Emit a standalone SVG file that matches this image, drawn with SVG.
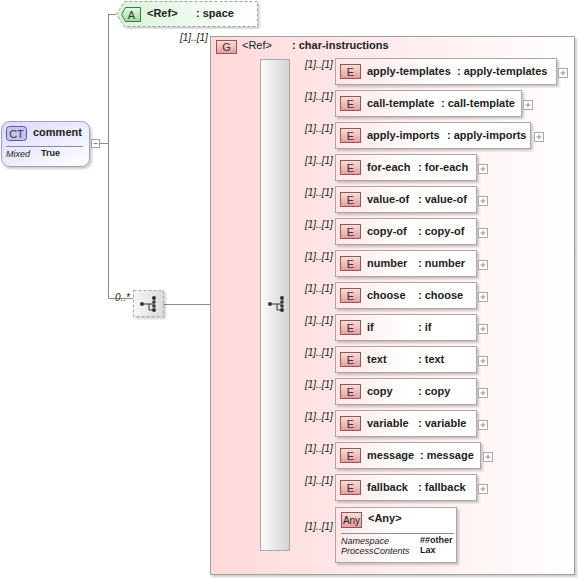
<svg xmlns="http://www.w3.org/2000/svg" width="578" height="579" viewBox="0 0 578 579">
<defs>
<linearGradient id="gGroup" x1="0" y1="0" x2="1" y2="0"><stop offset="0" stop-color="#ffd9d9"/><stop offset="1" stop-color="#ffffff"/></linearGradient>
<linearGradient id="gBar" x1="0" y1="0" x2="1" y2="0"><stop offset="0" stop-color="#fbfbfb"/><stop offset="1" stop-color="#d4d4d4"/></linearGradient>
<linearGradient id="gElem" x1="0" y1="0" x2="1" y2="0"><stop offset="0" stop-color="#ffe6e6"/><stop offset="0.5" stop-color="#ffffff"/><stop offset="1" stop-color="#ffffff"/></linearGradient>
<linearGradient id="gE" x1="0" y1="0" x2="0" y2="1"><stop offset="0" stop-color="#fbdede"/><stop offset="1" stop-color="#ea9a9a"/></linearGradient>
<linearGradient id="gCT" x1="0" y1="0" x2="1" y2="1"><stop offset="0" stop-color="#d9d9fb"/><stop offset="1" stop-color="#ffffff"/></linearGradient>
<linearGradient id="gAttr" x1="0" y1="0" x2="1" y2="0"><stop offset="0" stop-color="#d8f5d8"/><stop offset="1" stop-color="#ffffff"/></linearGradient>
<linearGradient id="gA" x1="0" y1="0" x2="0" y2="1"><stop offset="0" stop-color="#e6f8e6"/><stop offset="1" stop-color="#9fd99f"/></linearGradient>
<linearGradient id="gSeq" x1="0" y1="0" x2="1" y2="0"><stop offset="0" stop-color="#f6f6f6"/><stop offset="1" stop-color="#dcdcdc"/></linearGradient>
<filter id="sh" x="-5%" y="-5%" width="115%" height="115%"><feDropShadow dx="2" dy="2" stdDeviation="1" flood-color="#000" flood-opacity="0.2"/></filter>
<g id="plus"><rect x="0" y="0" width="9" height="9" fill="#fff" stroke="#a8a8a8" stroke-width="1"/><path d="M2 4.5H7M4.5 2V7" stroke="#909090" stroke-width="1"/></g>
<g id="seqIcon"><circle cx="0" cy="0" r="2" fill="#333"/><path d="M0 0H7V6H12M7 0H12" stroke="#333" stroke-width="1" fill="none"/><circle cx="12" cy="-6" r="2" fill="#333"/><circle cx="12" cy="-2" r="1.8" fill="#333"/><circle cx="12" cy="2" r="1.8" fill="#333"/><circle cx="12" cy="6" r="2" fill="#333"/></g>
</defs>
<style>
text{font-family:"Liberation Sans",Arial,sans-serif;fill:#222}
.b{font-weight:bold;font-size:11px}
.n{font-size:11px}
.m{font-style:italic;font-size:10px}
.s{font-size:9px}
.si{font-style:italic;font-size:9px}
.ln{stroke:#8c8c8c;stroke-width:1;fill:none}
.eb{fill:url(#gElem);stroke:#a8a8a8;stroke-width:1}
.badge{fill:url(#gE);stroke:#8a5a5a;stroke-width:1}
.bt{font-size:11px;fill:#333;text-anchor:middle}
</style>

<g id="connectors">
<path class="ln" d="M99 143.5H108.5M108.5 14V298.5M108.5 14.5H116M108.5 298.5H133M163 304.5H260"/>
<path class="ln" d="M290 71.5H335M290 103.5H335M290 135.5H335M290 167.5H335M290 199.5H335M290 231.5H335M290 263.5H335M290 295.5H335M290 327.5H335M290 359.5H335M290 391.5H335M290 423.5H335M290 455.5H335M290 487.5H335M290 533.5H335"/>
<text class="m" x="115" y="301">0..*</text>
<text class="m" x="230" y="302">[1]..[1]</text>
<text class="m" x="180" y="41">[1]..[1]</text>
</g>

<g id="comment">
<rect x="1.5" y="121.5" width="88" height="45" rx="8" fill="url(#gCT)" stroke="#a0a0b8" filter="url(#sh)"/>
<rect x="6.5" y="126.5" width="20" height="14" rx="3" fill="#c4c4f4" stroke="#5a5aa0"/>
<text class="bt" x="16.5" y="137.5">CT</text>
<text class="b" x="33" y="136">comment</text>
<path d="M6 146.5H83" stroke="#8888a0"/>
<text class="si" x="6" y="157">Mixed</text>
<text class="s" x="41" y="156" font-weight="bold">True</text>
<rect x="91.5" y="139.5" width="8" height="8" fill="#fff" stroke="#a0a0a0"/>
<path d="M93.5 143.5H97.5" stroke="#808080"/>
</g>

<g id="attr-space">
<path d="M124.5 1.5H257.5V26.5H124.5L116.5 14Z" fill="url(#gAttr)" stroke="#a0a0a0" stroke-dasharray="3,2" filter="url(#sh)"/>
<path d="M125.5 7.5H140.5V21.5H125.5L121.5 14.5Z" fill="url(#gA)" stroke="#3c7a3c"/>
<text class="bt" x="131.5" y="18.5">A</text>
<text class="b" x="147" y="17">&lt;Ref&gt;</text>
<text class="b" x="196" y="17">: space</text>
</g>

<g id="seq-outer">
<rect x="133.5" y="290.5" width="30" height="26" fill="url(#gSeq)" stroke="#a8a8a8" stroke-dasharray="3,2" filter="url(#sh)"/>
<use href="#seqIcon" x="142" y="304"/>
</g>

<g id="group-char-instructions">
<rect x="210.5" y="36.5" width="364" height="538" fill="url(#gGroup)" stroke="#a0a0a0" filter="url(#sh)"/>
<rect x="216.5" y="40.5" width="20" height="13" fill="url(#gE)" stroke="#8a5a5a"/>
<text class="bt" x="226.5" y="51">G</text>
<text class="n" x="242" y="49">&lt;Ref&gt;</text>
<text class="b" x="292" y="49">: char-instructions</text>
</g>

<g id="seq-inner">
<rect x="260.5" y="59.5" width="29" height="491" fill="url(#gBar)" stroke="#a8a8a8"/>
<use href="#seqIcon" x="270" y="304"/>
</g>

<g id="el-apply-templates"><text class="m" x="305" y="68">[1]..[1]</text><rect class="eb" x="335.5" y="58.5" width="221" height="26" filter="url(#sh)"/><rect class="badge" x="340.5" y="64.5" width="20" height="14"/><text class="bt" x="350.5" y="75.5">E</text><text class="b" x="367" y="75">apply-templates</text><text class="b" x="457" y="75">: apply-templates</text><use href="#plus" x="558.5" y="68.5"/></g>
<g id="el-call-template"><text class="m" x="305" y="100">[1]..[1]</text><rect class="eb" x="335.5" y="90.5" width="186" height="26" filter="url(#sh)"/><rect class="badge" x="340.5" y="96.5" width="20" height="14"/><text class="bt" x="350.5" y="107.5">E</text><text class="b" x="367" y="107">call-template</text><text class="b" x="441" y="107">: call-template</text><use href="#plus" x="523.5" y="100.5"/></g>
<g id="el-apply-imports"><text class="m" x="305" y="132">[1]..[1]</text><rect class="eb" x="335.5" y="122.5" width="195" height="26" filter="url(#sh)"/><rect class="badge" x="340.5" y="128.5" width="20" height="14"/><text class="bt" x="350.5" y="139.5">E</text><text class="b" x="367" y="139">apply-imports</text><text class="b" x="447" y="139">: apply-imports</text><use href="#plus" x="534.5" y="132.5"/></g>
<g id="el-for-each"><text class="m" x="305" y="164">[1]..[1]</text><rect class="eb" x="335.5" y="154.5" width="141" height="26" filter="url(#sh)"/><rect class="badge" x="340.5" y="160.5" width="20" height="14"/><text class="bt" x="350.5" y="171.5">E</text><text class="b" x="367" y="171">for-each</text><text class="b" x="418" y="171">: for-each</text><use href="#plus" x="478.5" y="164.5"/></g>
<g id="el-value-of"><text class="m" x="305" y="196">[1]..[1]</text><rect class="eb" x="335.5" y="186.5" width="141" height="26" filter="url(#sh)"/><rect class="badge" x="340.5" y="192.5" width="20" height="14"/><text class="bt" x="350.5" y="203.5">E</text><text class="b" x="367" y="203">value-of</text><text class="b" x="418" y="203">: value-of</text><use href="#plus" x="478.5" y="196.5"/></g>
<g id="el-copy-of"><text class="m" x="305" y="228">[1]..[1]</text><rect class="eb" x="335.5" y="218.5" width="141" height="26" filter="url(#sh)"/><rect class="badge" x="340.5" y="224.5" width="20" height="14"/><text class="bt" x="350.5" y="235.5">E</text><text class="b" x="367" y="235">copy-of</text><text class="b" x="418" y="235">: copy-of</text><use href="#plus" x="478.5" y="228.5"/></g>
<g id="el-number"><text class="m" x="305" y="260">[1]..[1]</text><rect class="eb" x="335.5" y="250.5" width="141" height="26" filter="url(#sh)"/><rect class="badge" x="340.5" y="256.5" width="20" height="14"/><text class="bt" x="350.5" y="267.5">E</text><text class="b" x="367" y="267">number</text><text class="b" x="418" y="267">: number</text><use href="#plus" x="478.5" y="260.5"/></g>
<g id="el-choose"><text class="m" x="305" y="292">[1]..[1]</text><rect class="eb" x="335.5" y="282.5" width="141" height="26" filter="url(#sh)"/><rect class="badge" x="340.5" y="288.5" width="20" height="14"/><text class="bt" x="350.5" y="299.5">E</text><text class="b" x="367" y="299">choose</text><text class="b" x="418" y="299">: choose</text><use href="#plus" x="478.5" y="292.5"/></g>
<g id="el-if"><text class="m" x="305" y="324">[1]..[1]</text><rect class="eb" x="335.5" y="314.5" width="141" height="26" filter="url(#sh)"/><rect class="badge" x="340.5" y="320.5" width="20" height="14"/><text class="bt" x="350.5" y="331.5">E</text><text class="b" x="367" y="331">if</text><text class="b" x="418" y="331">: if</text><use href="#plus" x="478.5" y="324.5"/></g>
<g id="el-text"><text class="m" x="305" y="356">[1]..[1]</text><rect class="eb" x="335.5" y="346.5" width="141" height="26" filter="url(#sh)"/><rect class="badge" x="340.5" y="352.5" width="20" height="14"/><text class="bt" x="350.5" y="363.5">E</text><text class="b" x="367" y="363">text</text><text class="b" x="418" y="363">: text</text><use href="#plus" x="478.5" y="356.5"/></g>
<g id="el-copy"><text class="m" x="305" y="388">[1]..[1]</text><rect class="eb" x="335.5" y="378.5" width="141" height="26" filter="url(#sh)"/><rect class="badge" x="340.5" y="384.5" width="20" height="14"/><text class="bt" x="350.5" y="395.5">E</text><text class="b" x="367" y="395">copy</text><text class="b" x="418" y="395">: copy</text><use href="#plus" x="478.5" y="388.5"/></g>
<g id="el-variable"><text class="m" x="305" y="420">[1]..[1]</text><rect class="eb" x="335.5" y="410.5" width="141" height="26" filter="url(#sh)"/><rect class="badge" x="340.5" y="416.5" width="20" height="14"/><text class="bt" x="350.5" y="427.5">E</text><text class="b" x="367" y="427">variable</text><text class="b" x="418" y="427">: variable</text><use href="#plus" x="478.5" y="420.5"/></g>
<g id="el-message"><text class="m" x="305" y="452">[1]..[1]</text><rect class="eb" x="335.5" y="442.5" width="145" height="26" filter="url(#sh)"/><rect class="badge" x="340.5" y="448.5" width="20" height="14"/><text class="bt" x="350.5" y="459.5">E</text><text class="b" x="367" y="459">message</text><text class="b" x="420" y="459">: message</text><use href="#plus" x="483.5" y="452.5"/></g>
<g id="el-fallback"><text class="m" x="305" y="484">[1]..[1]</text><rect class="eb" x="335.5" y="474.5" width="141" height="26" filter="url(#sh)"/><rect class="badge" x="340.5" y="480.5" width="20" height="14"/><text class="bt" x="350.5" y="491.5">E</text><text class="b" x="367" y="491">fallback</text><text class="b" x="418" y="491">: fallback</text><use href="#plus" x="478.5" y="484.5"/></g>

<g id="any">
<text class="m" x="305" y="530">[1]..[1]</text>
<rect class="eb" x="335.5" y="507.5" width="121" height="55" filter="url(#sh)"/>
<rect x="341.5" y="512.5" width="20" height="15" fill="url(#gE)" stroke="#8a5a5a"/>
<text x="351.5" y="524" font-size="10" fill="#444" text-anchor="middle">Any</text>
<text class="b" x="368" y="522">&lt;Any&gt;</text>
<path d="M341 533.5H454" stroke="#909090"/>
<text class="si" x="341" y="544">Namespace</text>
<text class="s" x="420" y="543" font-weight="bold">##other</text>
<text class="si" x="341" y="554">ProcessContents</text>
<text class="s" x="420" y="553" font-weight="bold">Lax</text>
</g>
</svg>
